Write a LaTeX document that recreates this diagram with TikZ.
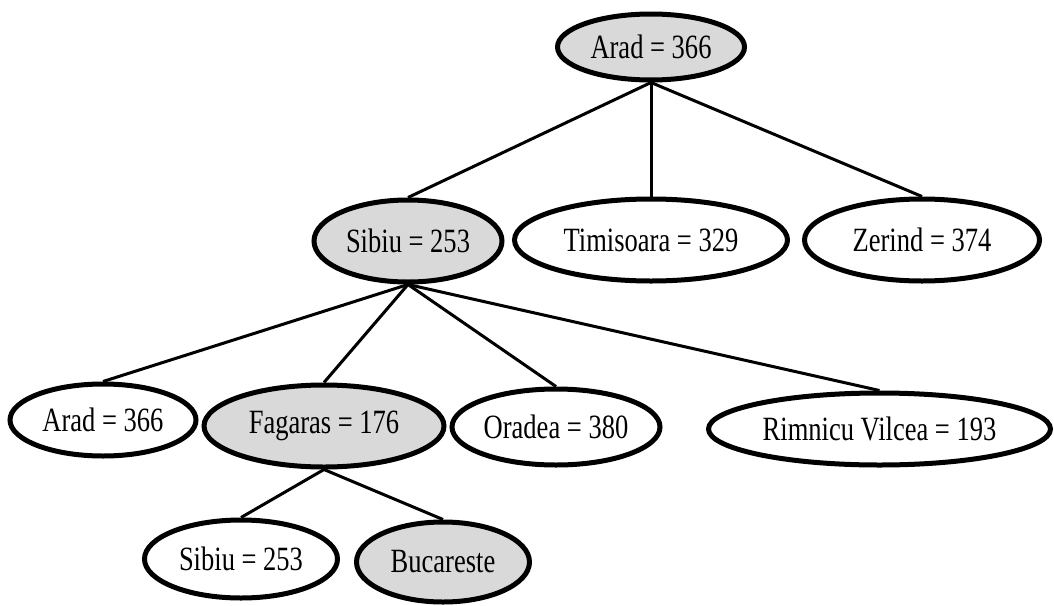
\documentclass[tikz,border=0pt]{standalone}
\usepackage{fontspec}
\setmainfont{Liberation Serif}[FakeStretch=0.78]
\usetikzlibrary{shapes.geometric}
\begin{document}
\begin{tikzpicture}[x=1pt,y=-1pt,
  city/.style={ellipse, draw=black, line width=5pt, fill=white, inner sep=0pt,
    font=\fontsize{34}{38}\selectfont},
  open/.style={city, fill=white},
  expanded/.style={city, fill=black!15},
  edge/.style={line width=3pt}]
\useasboundingbox (0,0) rectangle (1054,605);

% level 0
\node[expanded, minimum width=187pt, minimum height=66pt] (arad0) at (651,47) {Arad = 366};

% level 1
\node[expanded, minimum width=188pt, minimum height=82pt] (sibiu1) at (408,241) {Sibiu = 253};
\node[open, minimum width=273pt, minimum height=82pt] (timisoara1) at (651,240) {Timisoara = 329};
\node[open, minimum width=235pt, minimum height=82pt] (zerind1) at (922,240) {Zerind = 374};

% level 2
\node[open, minimum width=186pt, minimum height=72pt] (arad2) at (103,420) {Arad = 366};
\node[expanded, minimum width=240pt, minimum height=82pt] (fagaras2) at (324,426) {Fagaras = 176};
\node[open, minimum width=208pt, minimum height=76pt] (oradea2) at (556,427) {Oradea = 380};
\node[open, minimum width=342pt, minimum height=72pt] (rimnicu2) at (879.5,429) {Rimnicu Vilcea = 193};

% level 3
\node[open, minimum width=193pt, minimum height=78pt] (sibiu3) at (241,559) {Sibiu = 253};
\node[expanded, minimum width=173pt, minimum height=80pt] (bucareste3) at (443,562) {Bucareste};

% tree edges
\draw[edge] (arad0.south) -- (sibiu1.north);
\draw[edge] (arad0.south) -- (timisoara1.north);
\draw[edge] (arad0.south) -- (zerind1.north);
\draw[edge] (sibiu1.south) -- (arad2.north);
\draw[edge] (sibiu1.south) -- (fagaras2.north);
\draw[edge] (sibiu1.south) -- (oradea2.north);
\draw[edge] (sibiu1.south) -- (rimnicu2.north);
\draw[edge] (fagaras2.south) -- (sibiu3.north);
\draw[edge] (fagaras2.south) -- (bucareste3.north);
\end{tikzpicture}
\end{document}
